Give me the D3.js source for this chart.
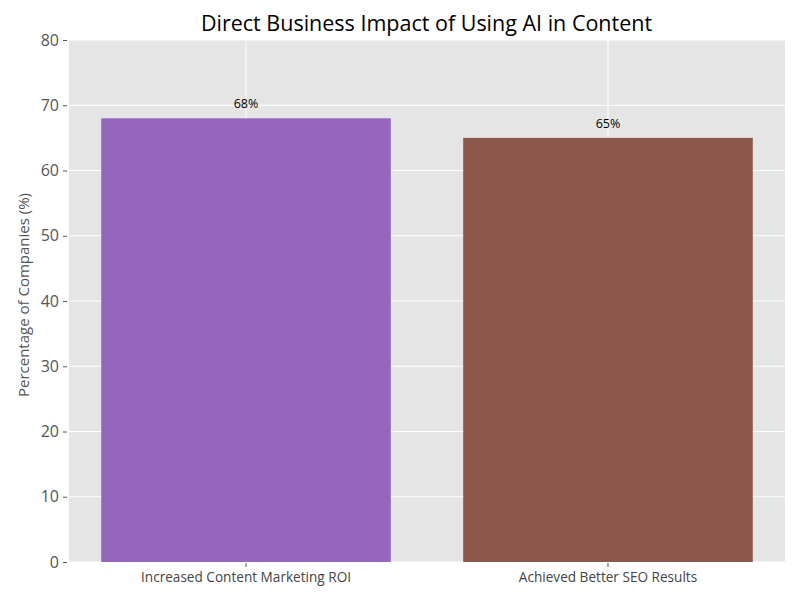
<!DOCTYPE html>
<html><head><meta charset="utf-8">
<script src="https://cdn.jsdelivr.net/npm/d3@7"></script>
<style>body{margin:0;background:#fff}svg{display:block}text{font-family:"Open Sans",sans-serif}</style>
</head><body>
<svg id="c" width="800" height="600"></svg>
<script>
const categories = ["Increased Content Marketing ROI", "Achieved Better SEO Results"];
const values = [68, 65];
const colors = ["#9467bd", "#8c564b"];
const yTicks = [0, 10, 20, 30, 40, 50, 60, 70, 80];

const svg = d3.select("#c");
const m = {l: 69, r: 15, t: 40, b: 38};
const W = 800, H = 600;
const FF = "'Open Sans',sans-serif";
const x = d3.scaleBand().domain(categories).range([m.l, W - m.r]).paddingInner(0.2).paddingOuter(0.089);
const y = d3.scaleLinear().domain([0, 80]).range([H - m.b, m.t]);

svg.append("rect").attr("x", m.l).attr("y", m.t).attr("width", W - m.l - m.r).attr("height", H - m.t - m.b).attr("fill", "#e5e5e5");

const g = svg.append("g");
g.selectAll(".hg").data(yTicks).join("line")
  .attr("x1", m.l).attr("x2", W - m.r).attr("y1", d => y(d)).attr("y2", d => y(d))
  .attr("stroke", "#fff").attr("stroke-width", 1);
g.selectAll(".vg").data(categories).join("line")
  .attr("x1", d => x(d) + x.bandwidth() / 2).attr("x2", d => x(d) + x.bandwidth() / 2)
  .attr("y1", m.t).attr("y2", H - m.b).attr("stroke", "#fff").attr("stroke-width", 1);

svg.selectAll(".bar").data(values).join("rect")
  .attr("x", (d, i) => x(categories[i])).attr("width", x.bandwidth())
  .attr("y", d => y(d)).attr("height", d => y(0) - y(d))
  .attr("fill", (d, i) => colors[i]);

svg.selectAll(".vl").data(values).join("text")
  .attr("x", (d, i) => x(categories[i]) + x.bandwidth() / 2).attr("y", d => y(d) - 10)
  .attr("text-anchor", "middle").attr("font-size", 12.5).attr("fill", "#000")
  .text(d => d + "%");

const ya = svg.append("g").attr("transform", `translate(${m.l - 2},0)`)
  .call(d3.axisLeft(y).tickValues(yTicks).tickSize(4).tickPadding(4));
ya.select(".domain").remove();
ya.selectAll("line").attr("stroke", "#555");
ya.selectAll("text").attr("font-size", 16).attr("fill", "#555").attr("font-family", FF);

const xa = svg.append("g").attr("transform", `translate(0,${H - m.b + 1})`)
  .call(d3.axisBottom(x).tickSize(4).tickPadding(5));
xa.select(".domain").remove();
xa.selectAll("line").attr("stroke", "#555");
xa.selectAll("text").attr("font-size", 13.6).attr("fill", "#444").attr("font-family", FF);

svg.append("text").attr("x", (m.l + W - m.r) / 2 - 0.5).attr("y", 31).attr("text-anchor", "middle")
  .attr("font-size", 21.5).attr("fill", "#000").text("Direct Business Impact of Using AI in Content");

svg.append("text").attr("transform", `translate(29,${(m.t + H - m.b) / 2 - 6}) rotate(-90)`)
  .attr("text-anchor", "middle").attr("font-size", 15).attr("fill", "#555")
  .text("Percentage of Companies (%)");
</script>
</body></html>
